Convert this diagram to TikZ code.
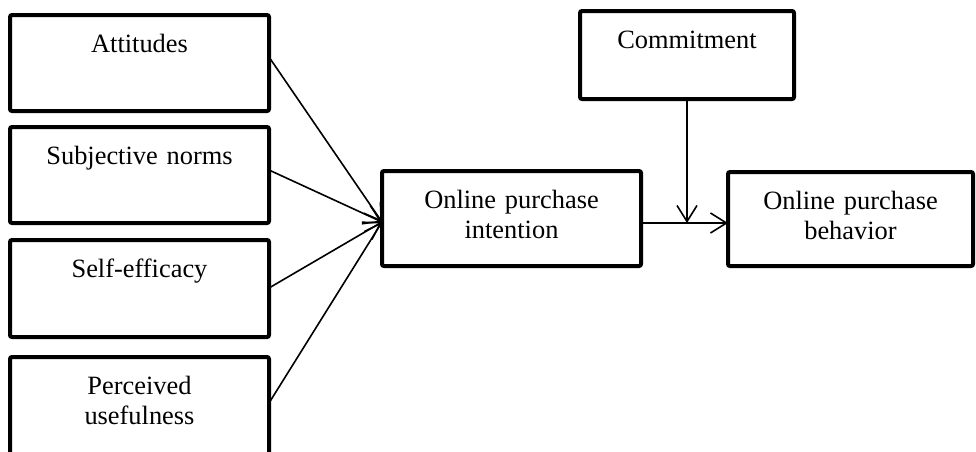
\documentclass[tikz,border=0pt]{standalone}
\usepackage{fontspec}
\setmainfont{Liberation Serif}
\usetikzlibrary{arrows.meta,calc}
\begin{document}
\begin{tikzpicture}[x=0.5pt,y=-0.5pt,
  box/.style={draw, line width=2pt, rounded corners=1pt, inner sep=0pt, outer sep=0pt,
    align=center, anchor=north west, text height=18.5pt,
    font=\fontsize{13.2}{15}\selectfont},
  link/.style={line width=0.8pt, -{Straight Barb[length=8pt,width=10pt]}}]
\useasboundingbox (0,0) rectangle (976,451);
\node[box, text width=129.5pt, text depth=29.5pt] (att) at (10,15) {Attitudes};
\node[box, text width=129.5pt, text depth=29.5pt] (sn) at (10,127) {Subjective norms};
\node[box, text width=129.5pt, text depth=30pt] (se) at (10,240) {Self-efficacy};
\node[box, text width=129.5pt, text depth=40pt] (pu) at (10,357) {Perceived\\usefulness};
\node[box, text width=129.5pt, text depth=29pt] (oi) at (382,171) {Online purchase\\intention};
\node[box, text width=107pt, text depth=25.5pt] (com) at (580,11) {Commitment};
\node[box, text width=122.5pt, text depth=28.5pt] (ob) at (728,172) {Online purchase\\behavior};
\coordinate (tgt) at ($(oi.north west)+(0,51)$);
\draw[link] ($(att.north east)+(0,42)$) -- (tgt);
\draw[link] ($(sn.north east)+(0,43)$) -- (tgt);
\draw[link] ($(se.north east)+(0,48)$) -- (tgt);
\draw[link] ($(pu.north east)+(0,46)$) -- (tgt);
\coordinate (io) at ($(oi.north east)+(0,52)$);
\draw[link] (io) -- (io -| ob.west);
\draw[link] (com.south) -- (com.south |- io);
\end{tikzpicture}
\end{document}
